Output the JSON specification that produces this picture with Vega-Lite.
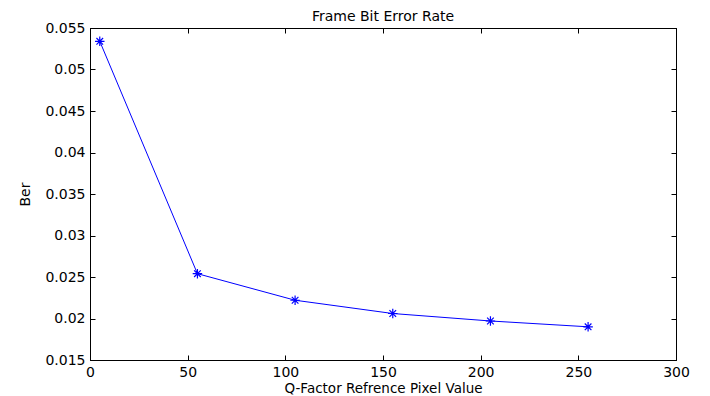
{
  "$schema": "https://vega.github.io/schema/vega-lite/v6.json",
  "width": 586,
  "height": 332,
  "autosize": {"type": "none"},
  "padding": {"left": 90, "top": 28, "right": 34, "bottom": 36},
  "background": "white",
  "title": {"text": "Frame Bit Error Rate", "fontSize": 14, "fontWeight": "normal", "font": "DejaVu Sans", "color": "black", "offset": -3, "anchor": "middle"},
  "config": {
    "view": {"stroke": "black", "strokeWidth": 1},
    "axis": {"grid": false, "domainColor": "black", "tickColor": "black", "labelColor": "black", "titleColor": "black", "labelFont": "DejaVu Sans", "titleFont": "DejaVu Sans", "labelFontSize": 14, "titleFontSize": 14, "titleFontWeight": "normal", "tickSize": -5, "domainWidth": 1}
  },
  "data": {"values": [
    {"q": 5, "ber": 0.0534},
    {"q": 55, "ber": 0.0254},
    {"q": 105, "ber": 0.0222},
    {"q": 155, "ber": 0.0206},
    {"q": 205, "ber": 0.0197},
    {"q": 255, "ber": 0.0190}
  ]},
  "layer": [
    {
      "mark": {"type": "line", "color": "#0000ff", "strokeWidth": 1},
      "encoding": {
        "x": {"field": "q", "type": "quantitative", "scale": {"domain": [0, 300], "nice": false, "zero": false}, "axis": {"title": "Q-Factor Refrence Pixel Value", "values": [0, 50, 100, 150, 200, 250, 300], "labelPadding": 10, "titlePadding": 2, "titleFontSize": 13.5, "labelFlush": false}},
        "y": {"field": "ber", "type": "quantitative", "scale": {"domain": [0.015, 0.055], "nice": false, "zero": false}, "axis": {"title": "Ber", "values": [0.015, 0.02, 0.025, 0.03, 0.035, 0.04, 0.045, 0.05, 0.055], "format": "~g", "labelPadding": 10, "titlePadding": 12, "labelFlush": false}}
      }
    },
    {
      "mark": {"type": "point", "shape": "M-1,0L1,0M0,-1L0,1M-0.7,-0.7L0.7,0.7M-0.7,0.7L0.7,-0.7", "filled": false, "color": "#0000ff", "strokeWidth": 1.2, "size": 90, "opacity": 1},
      "encoding": {
        "x": {"field": "q", "type": "quantitative", "axis": {"orient": "top", "labels": false, "title": null, "values": [0, 50, 100, 150, 200, 250, 300]}},
        "y": {"field": "ber", "type": "quantitative", "axis": {"orient": "right", "labels": false, "title": null, "values": [0.015, 0.02, 0.025, 0.03, 0.035, 0.04, 0.045, 0.05, 0.055]}}
      }
    }
  ],
  "resolve": {"axis": {"x": "independent", "y": "independent"}}
}
